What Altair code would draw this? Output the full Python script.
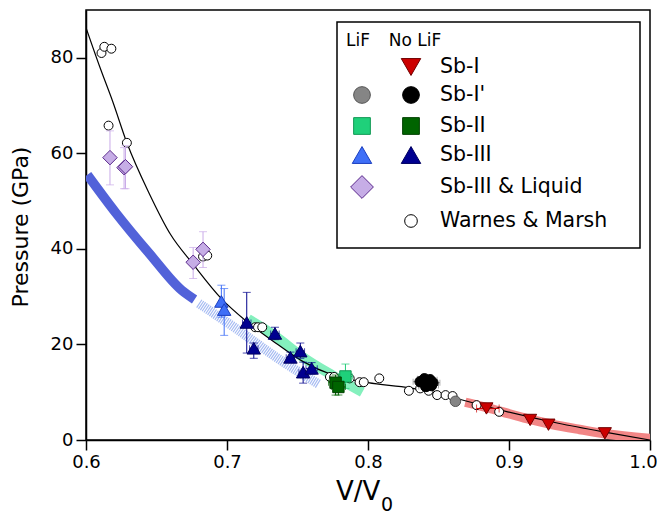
import altair as alt
import pandas as pd

FONT = "DejaVu Sans"

# ---------------- data ----------------
# black fit curve
fit_V = [0.600, 0.610, 0.619, 0.629, 0.645, 0.660, 0.676, 0.696, 0.714, 0.735,
         0.754, 0.775, 0.800, 0.830, 0.860, 0.899, 0.935, 0.967, 1.000]
fit_P = [86.3, 77.9, 70.8, 62.2, 51.5, 43.0, 36.8, 29.6, 24.8, 20.2,
         16.4, 13.6, 12.0, 10.9, 8.9, 5.9, 3.5, 1.7, 0.0]

# thick phase bands
blue_V = [0.601, 0.621, 0.645, 0.668, 0.677]
blue_P = [55.5, 47.6, 39.0, 31.3, 29.4]
lblue_V = [0.680, 0.707, 0.735, 0.765]
lblue_P = [28.6, 23.2, 17.3, 11.7]
green_V = [0.715, 0.734, 0.754, 0.775, 0.796]
green_P = [25.3, 21.8, 17.3, 13.5, 10.0]
red_V = [0.869, 0.884, 0.900, 0.915, 0.930, 0.950, 0.968, 1.000]
red_P = [7.9, 6.8, 5.5, 4.3, 3.3, 2.2, 1.3, 0.3]

# Warnes & Marsh (open circles)
wm_V = [0.611, 0.613, 0.618, 0.616, 0.629, 0.683, 0.686, 0.720, 0.722, 0.725,
        0.773, 0.776, 0.787, 0.794, 0.797, 0.808, 0.829, 0.837, 0.843, 0.849,
        0.855, 0.860, 0.877, 0.893]
wm_P = [81.0, 82.3, 81.9, 65.8, 62.2, 38.4, 38.6, 23.6, 23.6, 23.6,
        13.2, 13.2, 12.9, 12.1, 12.1, 12.9, 10.3, 10.8, 10.3, 9.4,
        9.4, 9.2, 7.3, 5.9]

# Sb-III & Liquid (LiF) diamonds
dia_V = [0.617, 0.627, 0.628, 0.676, 0.683]
dia_P = [59.1, 57.0, 57.2, 37.2, 39.9]
dia_lo = [53.4, 52.6, 52.6, 33.8, 36.1]
dia_hi = [64.7, 61.2, 61.6, 40.3, 43.6]

# Sb-III LiF
s3l_V = [0.696, 0.698]
s3l_P = [29.0, 27.3]
s3l_lo = [25.7, 21.9]
s3l_hi = [32.4, 31.7]

# Sb-III no LiF
s3_V = [0.714, 0.719, 0.734, 0.745, 0.752, 0.754, 0.760]
s3_P = [24.6, 19.2, 22.3, 17.3, 18.6, 14.2, 15.0]
s3_lo = [18.2, 17.1, 21.0, 16.4, 17.1, 11.9, 13.8]
s3_hi = [30.9, 20.3, 23.6, 18.4, 20.3, 16.3, 16.2]
s3_xlo = [0.711, 0.716, 0.731, 0.742, 0.749, 0.751, 0.756]
s3_xhi = [0.717, 0.722, 0.737, 0.748, 0.755, 0.757, 0.764]

# Sb-II LiF
s2l_V = [0.784]
s2l_P = [13.3]
s2l_lo = [10.8]
s2l_hi = [15.9]
s2l_xlo = [0.779]
s2l_xhi = [0.789]

# Sb-II no LiF
s2_V = [0.777, 0.779]
s2_P = [12.0, 11.1]
s2_lo = [9.4, 9.4]
s2_hi = [13.6, 12.8]
s2_xlo = [0.772, 0.774]
s2_xhi = [0.782, 0.784]

# Sb-I' no LiF (black)
s1p_V = [0.837, 0.840, 0.842, 0.844, 0.846, 0.841, 0.845]
s1p_P = [12.2, 12.8, 11.7, 12.6, 12.0, 11.2, 11.4]
s1p_lo = [11.2, 11.8, 10.7, 11.6, 11.0, 10.2, 10.4]
s1p_hi = [13.2, 13.8, 12.7, 13.6, 13.0, 12.2, 12.4]
s1p_xlo = [0.832, 0.835, 0.837, 0.839, 0.841, 0.836, 0.840]
s1p_xhi = [0.842, 0.845, 0.847, 0.849, 0.851, 0.846, 0.850]

# Sb-I' LiF (grey)
s1pl_V = [0.862]
s1pl_P = [8.1]

# Sb-I no LiF (red)
s1_V = [0.884, 0.915, 0.928, 0.968]
s1_P = [6.6, 4.2, 3.2, 1.4]
s1_xlo = [0.877]
s1_xhi = [0.893]
s1_errP = [6.6]

x_ticks = [0.6, 0.7, 0.8, 0.9, 1.0]
y_ticks = [0, 20, 40, 60, 80]

legend_rows = ["Sb-I", "Sb-I'", "Sb-II", "Sb-III", "Sb-III & Liquid", "Warnes & Marsh"]

# ---------------- encodings ----------------
xs = alt.Scale(domain=[0.6, 1.0], nice=False, zero=False)
ys = alt.Scale(domain=[0, 90], nice=False, zero=False)
xax = alt.Axis(values=x_ticks, format=".1f", title=None, labelFlush=False,
               labelOffset={"condition": {"test": "datum.value >= 0.99", "value": -7}, "value": 0})
yax = alt.Axis(values=y_ticks, format="d", title=None, labelFlush=False)


def X(f="V"):
    return alt.X(f + ":Q", scale=xs, axis=xax, title=None)


def Y(f="P"):
    return alt.Y(f + ":Q", scale=ys, axis=yax, title=None)


def curve(V, P, color, width, dash=None, opacity=1.0, cap="butt"):
    kw = dict(color=color, strokeWidth=width, interpolate="monotone",
              opacity=opacity, strokeCap=cap, clip=True)
    if dash:
        kw["strokeDash"] = dash
    return alt.Chart(pd.DataFrame({"V": V, "P": P})).mark_line(**kw).encode(x=X(), y=Y())


def vbars(V, lo, hi, color, cap=8):
    df = pd.DataFrame({"V": V, "lo": lo, "hi": hi})
    b = alt.Chart(df)
    return [
        b.mark_rule(color=color, strokeWidth=1).encode(x=X(), y=Y("lo"), y2="hi:Q"),
        b.mark_tick(color=color, orient="horizontal", size=cap, thickness=1).encode(x=X(), y=Y("lo")),
        b.mark_tick(color=color, orient="horizontal", size=cap, thickness=1).encode(x=X(), y=Y("hi")),
    ]


def hbars(P, xlo, xhi, color, cap=8):
    df = pd.DataFrame({"P": P, "xlo": xlo, "xhi": xhi})
    b = alt.Chart(df)
    return [
        b.mark_rule(color=color, strokeWidth=1).encode(x=X("xlo"), x2="xhi:Q", y=Y()),
        b.mark_tick(color=color, orient="vertical", size=cap, thickness=1).encode(x=X("xlo"), y=Y()),
        b.mark_tick(color=color, orient="vertical", size=cap, thickness=1).encode(x=X("xhi"), y=Y()),
    ]


def pts(V, P, shape, fill, stroke, size, sw=1.0):
    return alt.Chart(pd.DataFrame({"V": V, "P": P})).mark_point(
        shape=shape, filled=True, fill=fill, stroke=stroke, strokeWidth=sw,
        size=size, opacity=1).encode(x=X(), y=Y())


one = pd.DataFrame({"k": [0]})


def lsym(px, py, shape, fill, stroke, size, sw=1.0):
    return alt.Chart(one).mark_point(shape=shape, filled=True, fill=fill, stroke=stroke,
                                     strokeWidth=sw, size=size, opacity=1).encode(
        x=alt.value(px), y=alt.value(py))


def ltext(px, py, txt, size, align="left", angle=0, baseline="middle"):
    return alt.Chart(one).mark_text(text=txt, font=FONT, fontSize=size, align=align,
                                    baseline=baseline, angle=angle, color="black").encode(
        x=alt.value(px), y=alt.value(py))


layers = []
# bands
layers.append(curve(blue_V, blue_P, "#5262d9", 9.5))
layers.append(curve(lblue_V, lblue_P, "#a6bbf2", 9.5, dash=[1.2, 1.0]))
layers.append(curve(green_V, green_P, "#84f0bd", 10))
layers.append(curve(red_V, red_P, "#f28686", 9.5))
# fit line
layers.append(curve(fit_V, fit_P, "black", 1.2))
# open circles
layers.append(pts(wm_V, wm_P, "circle", "white", "black", 80, 1.0))
# error bars
layers += vbars(dia_V, dia_lo, dia_hi, "#c9aae8")
layers += vbars(s3l_V, s3l_lo, s3l_hi, "#3f6ff7")
layers += vbars(s3_V, s3_lo, s3_hi, "#00008b")
layers += hbars(s3_P, s3_xlo, s3_xhi, "#00008b", cap=6)
layers += vbars(s2l_V, s2l_lo, s2l_hi, "#22cc77")
layers += hbars(s2l_P, s2l_xlo, s2l_xhi, "#22cc77", cap=6)
layers += vbars(s2_V, s2_lo, s2_hi, "#006400")
layers += hbars(s2_P, s2_xlo, s2_xhi, "#006400", cap=6)
layers += vbars(s1p_V, s1p_lo, s1p_hi, "#8c8c8c", cap=6)
layers += hbars(s1p_P, s1p_xlo, s1p_xhi, "#8c8c8c", cap=6)
layers += hbars(s1_errP, s1_xlo, s1_xhi, "#cc0000", cap=8)
# markers
layers.append(pts(dia_V, dia_P, "diamond", "#c6ade6", "#5b2a8c", 210))
layers.append(pts(s3l_V, s3l_P, "triangle-up", "#3f6ff7", "#1c3fbf", 180))
layers.append(pts(s3_V, s3_P, "triangle-up", "#000090", "#000060", 180))
layers.append(pts(s2l_V, s2l_P, "square", "#1fd07a", "#119955", 130))
layers.append(pts(s2_V, s2_P, "square", "#006400", "#004000", 130))
layers.append(pts(s1p_V, s1p_P, "circle", "black", "black", 110))
layers.append(pts(s1pl_V, s1pl_P, "circle", "#858585", "#555555", 110))
layers.append(pts(s1_V, s1_P, "triangle-down", "#cc0000", "#700000", 170))

# ---------------- legend (plot-pixel layout) ----------------
LX_LIF, LX_NO, LX_TXT = 276, 325, 354
row_y = [57, 85, 116, 145, 177, 211]
layers.append(alt.Chart(one).mark_rect(fill="white", stroke="black", strokeWidth=1.5).encode(
    x=alt.value(251), x2=alt.value(554), y=alt.value(12), y2=alt.value(238)))
layers.append(ltext(272, 31, "LiF", 17, align="center"))
layers.append(ltext(329, 31, "No LiF", 17, align="center"))
layers.append(lsym(LX_NO, row_y[0], "triangle-down", "#cc0000", "#700000", 380))
layers.append(lsym(LX_LIF, row_y[1], "circle", "#858585", "#555555", 280))
layers.append(lsym(LX_NO, row_y[1], "circle", "black", "black", 280))
layers.append(lsym(LX_LIF, row_y[2], "square", "#1fd07a", "#119955", 280))
layers.append(lsym(LX_NO, row_y[2], "square", "#006400", "#004000", 280))
layers.append(lsym(LX_LIF, row_y[3], "triangle-up", "#3f6ff7", "#1c3fbf", 380))
layers.append(lsym(LX_NO, row_y[3], "triangle-up", "#000090", "#000060", 380))
layers.append(lsym(LX_LIF, row_y[4], "diamond", "#c6ade6", "#5b2a8c", 520))
layers.append(lsym(LX_NO, row_y[5], "circle", "white", "black", 160))
for name, yy in zip(legend_rows, row_y):
    layers.append(ltext(LX_TXT, yy, name, 20.5))

# ---------------- axis titles ----------------
layers.append(ltext(-65, 217, "Pressure (GPa)", 22, align="center", angle=270))
layers.append(ltext(250, 490, "V/V", 26, align="left", baseline="alphabetic"))
layers.append(ltext(295, 501, "0", 19, align="left", baseline="alphabetic"))

chart = alt.layer(*layers).properties(
    width=564, height=430,
    autosize=alt.AutoSizeParams(type="none"),
    padding={"left": 78, "top": 2, "right": 7, "bottom": 74},
).configure_view(stroke="black", strokeWidth=1.5).configure_axis(
    grid=False, domainColor="black", domainWidth=1.5, tickColor="black", tickWidth=1.5,
    tickSize=10, labelFont=FONT, labelFontSize=18, labelColor="black", labelPadding=3,
    labelFlush=False,
)

chart.save("out.html", embed_options={"renderer": "svg", "actions": False})
